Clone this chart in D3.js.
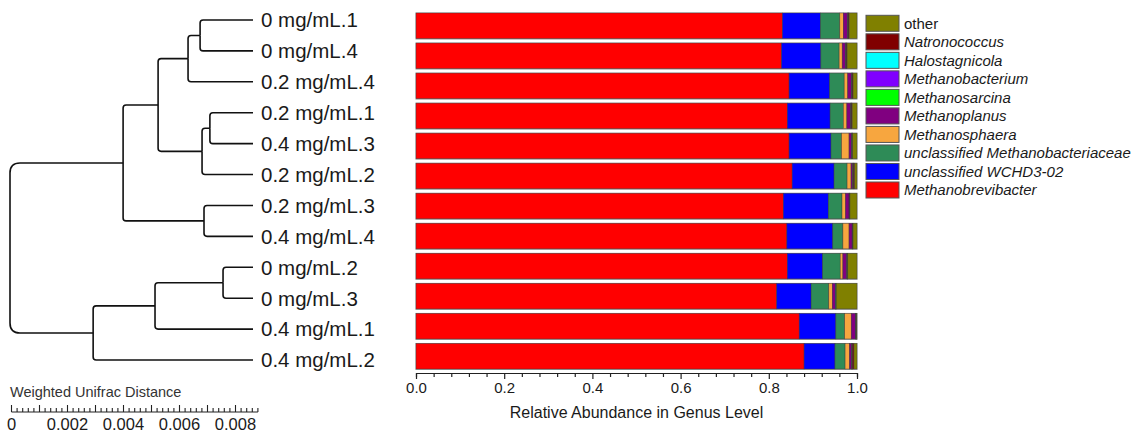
<!DOCTYPE html>
<html>
<head>
    <title>Genus level abundance with Weighted Unifrac clustering</title>
    <script src="https://d3js.org/d3.v7.min.js"></script>
    <style>
        body {
            margin: 0;
            background-color: #fff;
            font-family: "Liberation Sans", Arial, sans-serif;
        }
        .leaf-label { font-size: 20.5px; fill: #1a1a1a; }
        .legend-label { font-size: 15px; fill: #1a1a1a; }
        .axis text { font-size: 15px; fill: #1a1a1a; font-family: "Liberation Sans", Arial, sans-serif; }
    </style>
</head>
<body>
    <div id="chart"></div>
    <script>
        // samples, top to bottom (order of the dendrogram leaves)
        const samples = ["0 mg/mL.1", "0 mg/mL.4", "0.2 mg/mL.4", "0.2 mg/mL.1", "0.4 mg/mL.3", "0.2 mg/mL.2",
                         "0.2 mg/mL.3", "0.4 mg/mL.4", "0 mg/mL.2", "0 mg/mL.3", "0.4 mg/mL.1", "0.4 mg/mL.2"];

        // genera, in stacking order (left to right)
        const genera = ["Methanobrevibacter", "unclassified WCHD3-02", "unclassified Methanobacteriaceae", "Methanosphaera",
                        "Methanoplanus", "Methanosarcina", "Methanobacterium", "Halostagnicola", "Natronococcus", "other"];
        const colors = ["#ff0000", "#0000ff", "#2e8b57", "#f7a63f", "#800080", "#00ff00", "#8000ff", "#00ffff", "#800000", "#808000"];

        // relative abundance per genus, one value per sample
        const methanobrevibacter = [0.831, 0.829, 0.846, 0.842, 0.846, 0.853, 0.833, 0.841, 0.842, 0.818, 0.869, 0.880];
        const wchd3 = [0.086, 0.089, 0.092, 0.097, 0.095, 0.095, 0.102, 0.104, 0.080, 0.078, 0.083, 0.070];
        const methanobacteriaceae = [0.044, 0.0415, 0.033, 0.030, 0.024, 0.0295, 0.031, 0.023, 0.040, 0.040, 0.020, 0.023];
        const methanosphaera = [0.008, 0.007, 0.008, 0.008, 0.017, 0.009, 0.008, 0.014, 0.006, 0.008, 0.015, 0.010];
        const methanoplanus = [0.010, 0.008, 0.009, 0.009, 0.006, 0.004, 0.008, 0.007, 0.009, 0.007, 0.010, 0.005];
        const methanosarcina = [0.0005, 0.0005, 0.0005, 0.0005, 0.0005, 0.0005, 0.0005, 0.0005, 0.0005, 0.0005, 0.0005, 0.0005];
        const methanobacterium = [0.0005, 0.0005, 0.0005, 0.0005, 0.0005, 0.0005, 0.0005, 0.0005, 0.0005, 0.0005, 0.0005, 0.0005];
        const halostagnicola = [0.0005, 0.0005, 0.0005, 0.0005, 0.0005, 0.0005, 0.0005, 0.0005, 0.0005, 0.0005, 0.0005, 0.0005];
        const natronococcus = [0.0015, 0.0015, 0.0015, 0.0015, 0.0005, 0.0025, 0.0005, 0.0005, 0.0005, 0.0005, 0.0005, 0.0035];
        const other = [0.018, 0.0225, 0.009, 0.011, 0.010, 0.0055, 0.016, 0.009, 0.021, 0.047, 0.001, 0.007];

        const series = [methanobrevibacter, wchd3, methanobacteriaceae, methanosphaera, methanoplanus,
                        methanosarcina, methanobacterium, halostagnicola, natronococcus, other];

        // dendrogram merges: [child, child, height]; a number refers to an earlier merge
        const merges = [
            ["0 mg/mL.1", "0 mg/mL.4", 0.00189],      // 0
            [0, "0.2 mg/mL.4", 0.00232],              // 1
            ["0.2 mg/mL.1", "0.4 mg/mL.3", 0.00154],  // 2
            [2, "0.2 mg/mL.2", 0.00182],              // 3
            [1, 3, 0.00339],                          // 4
            ["0.2 mg/mL.3", "0.4 mg/mL.4", 0.00175],  // 5
            [4, 5, 0.00464],                          // 6
            ["0 mg/mL.2", "0 mg/mL.3", 0.00107],      // 7
            [7, "0.4 mg/mL.1", 0.00350],              // 8
            [8, "0.4 mg/mL.2", 0.00571],              // 9
            [6, 9, 0.00868]                           // 10 root
        ];

        const axisTicks = [0, 0.2, 0.4, 0.6, 0.8, 1.0];
        const scaleTicks = [0, 0.002, 0.004, 0.006, 0.008];

        const width = 1137, height = 435;
        const svg = d3.select('#chart').append('svg')
            .attr('width', width)
            .attr('height', height);

        // ---------- stacked bars ----------
        const x = d3.scaleLinear().domain([0, 1]).range([416, 857]);
        const y = d3.scaleBand().domain(samples).range([13, 369]).paddingInner(0.15);

        const table = samples.map((s, i) => {
            const row = { sample: s };
            genera.forEach((g, k) => row[g] = series[k][i]);
            return row;
        });
        const stacked = d3.stack().keys(genera)(table);

        const barG = svg.append('g');
        barG.selectAll('rect.back')
            .data(samples)
            .enter()
            .append('rect')
            .attr('class', 'back')
            .attr('x', x(0) - 0.5)
            .attr('y', d => y(d) - 0.5)
            .attr('width', x(1) - x(0) + 1)
            .attr('height', y.bandwidth() + 1.5)
            .attr('fill', '#9a9a9a');

        barG.selectAll('g.layer')
            .data(stacked)
            .enter()
            .append('g')
            .attr('fill', (d, k) => colors[k])
            .selectAll('rect')
            .data(d => d)
            .enter()
            .append('rect')
            .attr('x', d => x(d[0]))
            .attr('y', d => y(d.data.sample))
            .attr('width', d => Math.max(0, x(d[1]) - x(d[0])))
            .attr('height', y.bandwidth())
            .attr('stroke', '#3a3a3a')
            .attr('stroke-width', 0.6)
            .attr('stroke-opacity', 0.7);

        // x axis
        const axis = d3.axisBottom(x)
            .tickValues(d3.range(0, 1.0001, 0.04))
            .tickSize(4)
            .tickFormat(d => axisTicks.some(t => Math.abs(t - d) < 1e-6) ? d3.format('.1f')(d) : '');
        const axisG = svg.append('g')
            .attr('class', 'axis')
            .attr('transform', 'translate(0,373)')
            .call(axis);
        axisG.select('.domain').attr('stroke', '#222').attr('stroke-width', 1.2);
        axisG.selectAll('.tick line').attr('stroke', '#222').attr('stroke-width', 1.2)
            .attr('y2', d => axisTicks.some(t => Math.abs(t - d) < 1e-6) ? 6 : 4);
        axisG.selectAll('.tick text').attr('y', 9);

        svg.append('text')
            .attr('x', (x(0) + x(1)) / 2)
            .attr('y', 418)
            .attr('text-anchor', 'middle')
            .attr('font-size', 16)
            .attr('fill', '#1a1a1a')
            .text('Relative Abundance in Genus Level');

        // legend (top entry is the last stacked genus)
        const legend = svg.append('g');
        const legendY = d3.scalePoint().domain(genera.slice().reverse()).range([23.3, 190]);
        genera.forEach((g, k) => {
            legend.append('rect')
                .attr('x', 866)
                .attr('y', legendY(g) - 8)
                .attr('width', 33)
                .attr('height', 16)
                .attr('fill', colors[k])
                .attr('stroke', '#555')
                .attr('stroke-width', 1);
            legend.append('text')
                .attr('class', 'legend-label')
                .attr('x', 904)
                .attr('y', legendY(g))
                .attr('dy', '0.35em')
                .attr('font-style', g === 'other' ? 'normal' : 'italic')
                .text(g);
        });

        // ---------- dendrogram ----------
        const root = merges.length - 1;
        const tx = d3.scaleLinear().domain([merges[root][2], 0]).range([10, 253]);
        const ty = d3.scalePoint().domain(samples).range([20, 360]);

        const nodeY = m => {
            const [a, b] = merges[m];
            const ya = typeof a === 'number' ? nodeY(a) : ty(a);
            const yb = typeof b === 'number' ? nodeY(b) : ty(b);
            return (ya + yb) / 2;
        };

        const treeG = svg.append('g')
            .attr('fill', 'none')
            .attr('stroke', '#111')
            .attr('stroke-width', 1.6);

        merges.forEach((m, i) => {
            const px = tx(m[2]);
            const py = nodeY(i);
            const r0 = i === root ? 10 : 3;
            [m[0], m[1]].forEach(c => {
                const isLeaf = typeof c !== 'number';
                const cx = isLeaf ? tx(0) : tx(merges[c][2]);
                const cy = isLeaf ? ty(c) : nodeY(c);
                const dir = cy < py ? -1 : 1;
                const r = Math.min(r0, Math.abs(cy - py), cx - px);
                const p = d3.path();
                p.moveTo(px, py);
                p.lineTo(px, cy - dir * r);
                p.quadraticCurveTo(px, cy, px + r, cy);
                p.lineTo(cx, cy);
                treeG.append('path').attr('d', p.toString());
            });
        });

        svg.append('g').selectAll('text')
            .data(samples)
            .enter()
            .append('text')
            .attr('class', 'leaf-label')
            .attr('x', 261)
            .attr('y', d => ty(d))
            .attr('dy', '0.36em')
            .text(d => d);

        // scale bar
        const sx = d3.scaleLinear().domain([0, 0.001]).range([11.5, 39.5]);
        svg.append('text')
            .attr('x', 10)
            .attr('y', 392)
            .attr('dy', '0.35em')
            .attr('font-size', 14.5)
            .attr('fill', '#333')
            .text('Weighted Unifrac Distance');

        const scaleG = svg.append('g').attr('stroke', '#222').attr('stroke-width', 1.1);
        const minor = d3.range(0, 45).map(i => i * 0.0002);
        scaleG.append('line')
            .attr('x1', sx(0)).attr('x2', sx(minor[minor.length - 1]))
            .attr('y1', 412).attr('y2', 412);
        scaleG.selectAll('line.t')
            .data(minor)
            .enter()
            .append('line')
            .attr('class', 't')
            .attr('x1', d => sx(d)).attr('x2', d => sx(d))
            .attr('y1', 412)
            .attr('y2', (d, i) => i % 5 === 0 ? 405 : 408);

        svg.append('g').selectAll('text')
            .data(scaleTicks)
            .enter()
            .append('text')
            .attr('x', d => sx(d))
            .attr('y', 424)
            .attr('dy', '0.35em')
            .attr('text-anchor', 'middle')
            .attr('font-size', 16.5)
            .attr('fill', '#1a1a1a')
            .text(d => d === 0 ? '0' : d3.format('.3f')(d));
    </script>
</body>
</html>
